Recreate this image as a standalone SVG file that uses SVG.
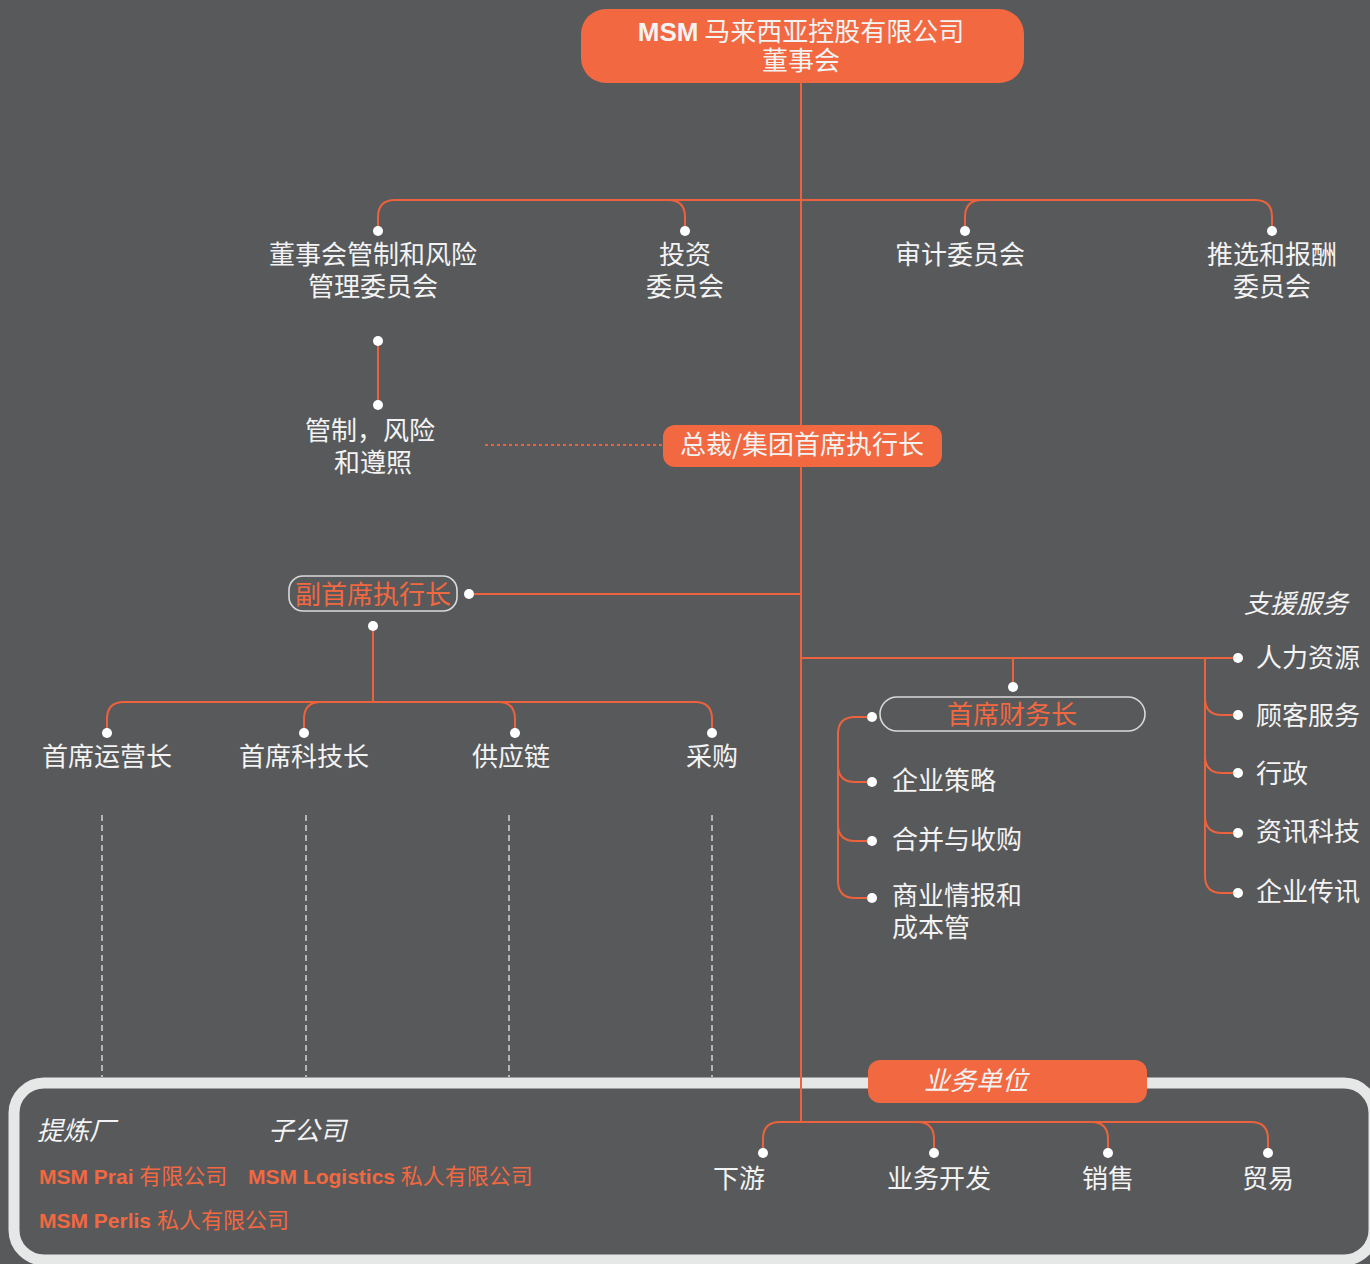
<svg xmlns="http://www.w3.org/2000/svg" width="1370" height="1264" viewBox="0 0 1370 1264">
<defs>
<style>
.bg{fill:#58595b}
.ln{fill:none;stroke:#ec623c;stroke-width:2}
.dash{fill:none;stroke:#e6e6e6;stroke-width:1.3;stroke-dasharray:6 4}
.dot{fill:#ffffff}
.box{fill:#f26841}
.obox{fill:none;stroke:#d9d9d9;stroke-width:1.6}
.t{font-family:"Noto Sans CJK SC","Liberation Sans",sans-serif;font-size:26px;fill:#f3f3f3}
.c{text-anchor:middle}
.o{fill:#f26841}
.i{font-style:italic}
.b{font-family:"Liberation Sans","Noto Sans CJK SC",sans-serif;font-weight:bold}
.s{font-family:"Liberation Sans","Noto Sans CJK SC",sans-serif;font-size:21px;fill:#f26841;font-weight:bold}
.sc{font-family:"Noto Sans CJK SC",sans-serif;font-weight:normal;font-size:22px}
</style>
</defs>
<rect class="bg" x="0" y="0" width="1370" height="1264"/>
<rect x="14" y="1083" width="1360" height="177" rx="30" fill="none" stroke="#e6e8e7" stroke-width="11"/>
<g id="connectors">
<path class="ln" d="M801 83V1122"/>
<path class="ln" d="M378 231V217Q378 200 395 200H1255Q1272 200 1272 217V231"/>
<path class="ln" d="M668 200Q685 200 685 217V231"/>
<path class="ln" d="M982 200Q965 200 965 217V231"/>
<path class="ln" d="M378 341V405"/>
<path class="ln" d="M485 445H663" stroke-dasharray="3 3"/>
<path class="ln" d="M469 594H801"/>
<path class="ln" d="M373 626V702"/>
<path class="ln" d="M107 733V719Q107 702 124 702H695Q712 702 712 719V733"/>
<path class="ln" d="M321 702Q304 702 304 719V733"/>
<path class="ln" d="M498 702Q515 702 515 719V733"/>
<path class="dash" d="M102 815V1077M306 815V1077M509 815V1077M712 815V1077"/>
<path class="ln" d="M801 658H1238"/>
<path class="ln" d="M1013 658V687"/>
<path class="ln" d="M1205 658V876Q1205 893 1222 893H1238"/>
<path class="ln" d="M1205 698Q1205 715 1222 715H1238"/>
<path class="ln" d="M1205 756Q1205 773 1222 773H1238"/>
<path class="ln" d="M1205 816Q1205 833 1222 833H1238"/>
<path class="ln" d="M872 717H855Q838 717 838 734V881Q838 898 855 898H872"/>
<path class="ln" d="M838 765Q838 782 855 782H872"/>
<path class="ln" d="M838 824Q838 841 855 841H872"/>
<path class="ln" d="M763 1153V1139Q763 1122 780 1122H1251Q1268 1122 1268 1139V1153"/>
<path class="ln" d="M917 1122Q934 1122 934 1139V1153"/>
<path class="ln" d="M1091 1122Q1108 1122 1108 1139V1153"/>
<g class="dot">
<circle cx="378" cy="231" r="5"/><circle cx="685" cy="231" r="5"/><circle cx="965" cy="231" r="5"/><circle cx="1272" cy="231" r="5"/>
<circle cx="378" cy="341" r="5"/><circle cx="378" cy="405" r="5"/>
<circle cx="469" cy="594" r="5"/><circle cx="373" cy="626" r="5"/>
<circle cx="107" cy="733" r="5"/><circle cx="304" cy="733" r="5"/><circle cx="515" cy="733" r="5"/><circle cx="712" cy="733" r="5"/>
<circle cx="1013" cy="687" r="5"/>
<circle cx="1238" cy="658" r="5"/><circle cx="1238" cy="715" r="5"/><circle cx="1238" cy="773" r="5"/><circle cx="1238" cy="833" r="5"/><circle cx="1238" cy="893" r="5"/>
<circle cx="872" cy="717" r="5"/><circle cx="872" cy="782" r="5"/><circle cx="872" cy="841" r="5"/><circle cx="872" cy="898" r="5"/>
<circle cx="763" cy="1153" r="5"/><circle cx="934" cy="1153" r="5"/><circle cx="1108" cy="1153" r="5"/><circle cx="1268" cy="1153" r="5"/>
</g>
</g>
<g id="board">
<rect class="box" x="581" y="9" width="443" height="74" rx="25"/>
<text class="t c" x="801" y="41"><tspan class="b">MSM</tspan> 马来西亚控股有限公司</text>
<text class="t c" x="801" y="70">董事会</text>
</g>
<g id="c1"><text class="t c" x="373" y="264">董事会管制和风险</text><text class="t c" x="373" y="296">管理委员会</text></g>
<g id="c2"><text class="t c" x="685" y="264">投资</text><text class="t c" x="685" y="296">委员会</text></g>
<g id="c3"><text class="t c" x="960" y="264">审计委员会</text></g>
<g id="c4"><text class="t c" x="1272" y="264">推选和报酬</text><text class="t c" x="1272" y="296">委员会</text></g>
<g id="compliance"><text class="t c" x="370" y="440">管制，风险</text><text class="t c" x="373" y="472">和遵照</text></g>
<g id="ceo">
<rect class="box" x="663" y="425" width="279" height="42" rx="12"/>
<text class="t c" x="802" y="454">总裁/集团首席执行长</text>
</g>
<g id="dceo">
<rect x="289" y="576" width="168" height="35" rx="14" fill="#58595b" class="obox"/>
<text class="t c o" x="373" y="604">副首席执行长</text>
</g>
<g id="coo"><text class="t c" x="107" y="766">首席运营长</text></g>
<g id="cto"><text class="t c" x="304" y="766">首席科技长</text></g>
<g id="scm"><text class="t c" x="511" y="766">供应链</text></g>
<g id="proc"><text class="t c" x="712" y="766">采购</text></g>
<g id="cfo">
<rect x="880" y="697" width="265" height="34" rx="17" fill="#58595b" class="obox"/>
<text class="t c o" x="1012" y="724">首席财务长</text>
</g>
<g id="cfo-items">
<text class="t" x="892" y="790">企业策略</text>
<text class="t" x="892" y="849">合并与收购</text>
<text class="t" x="892" y="905">商业情报和</text>
<text class="t" x="892" y="937">成本管</text>
</g>
<g id="support">
<text class="t i" x="1348" y="613" text-anchor="end">支援服务</text>
<text class="t" x="1256" y="667">人力资源</text>
<text class="t" x="1256" y="725">顾客服务</text>
<text class="t" x="1256" y="783">行政</text>
<text class="t" x="1256" y="841">资讯科技</text>
<text class="t" x="1256" y="901">企业传讯</text>
</g>
<g id="bu">
<rect class="box" x="868" y="1060" width="279" height="43" rx="12"/>
<text class="t i c" x="976" y="1090">业务单位</text>
</g>
<g id="bu-items">
<text class="t c" x="739" y="1188">下游</text>
<text class="t c" x="939" y="1188">业务开发</text>
<text class="t c" x="1108" y="1188">销售</text>
<text class="t c" x="1268" y="1188">贸易</text>
</g>
<g id="refinery">
<text class="t i" x="37" y="1140">提炼厂</text>
<text class="s" x="39" y="1184">MSM Prai <tspan class="sc">有限公司</tspan></text>
<text class="s" x="39" y="1228">MSM Perlis <tspan class="sc">私人有限公司</tspan></text>
</g>
<g id="subsidiary">
<text class="t i" x="268" y="1140">子公司</text>
<text class="s" x="248" y="1184">MSM Logistics <tspan class="sc">私人有限公司</tspan></text>
</g>
</svg>
